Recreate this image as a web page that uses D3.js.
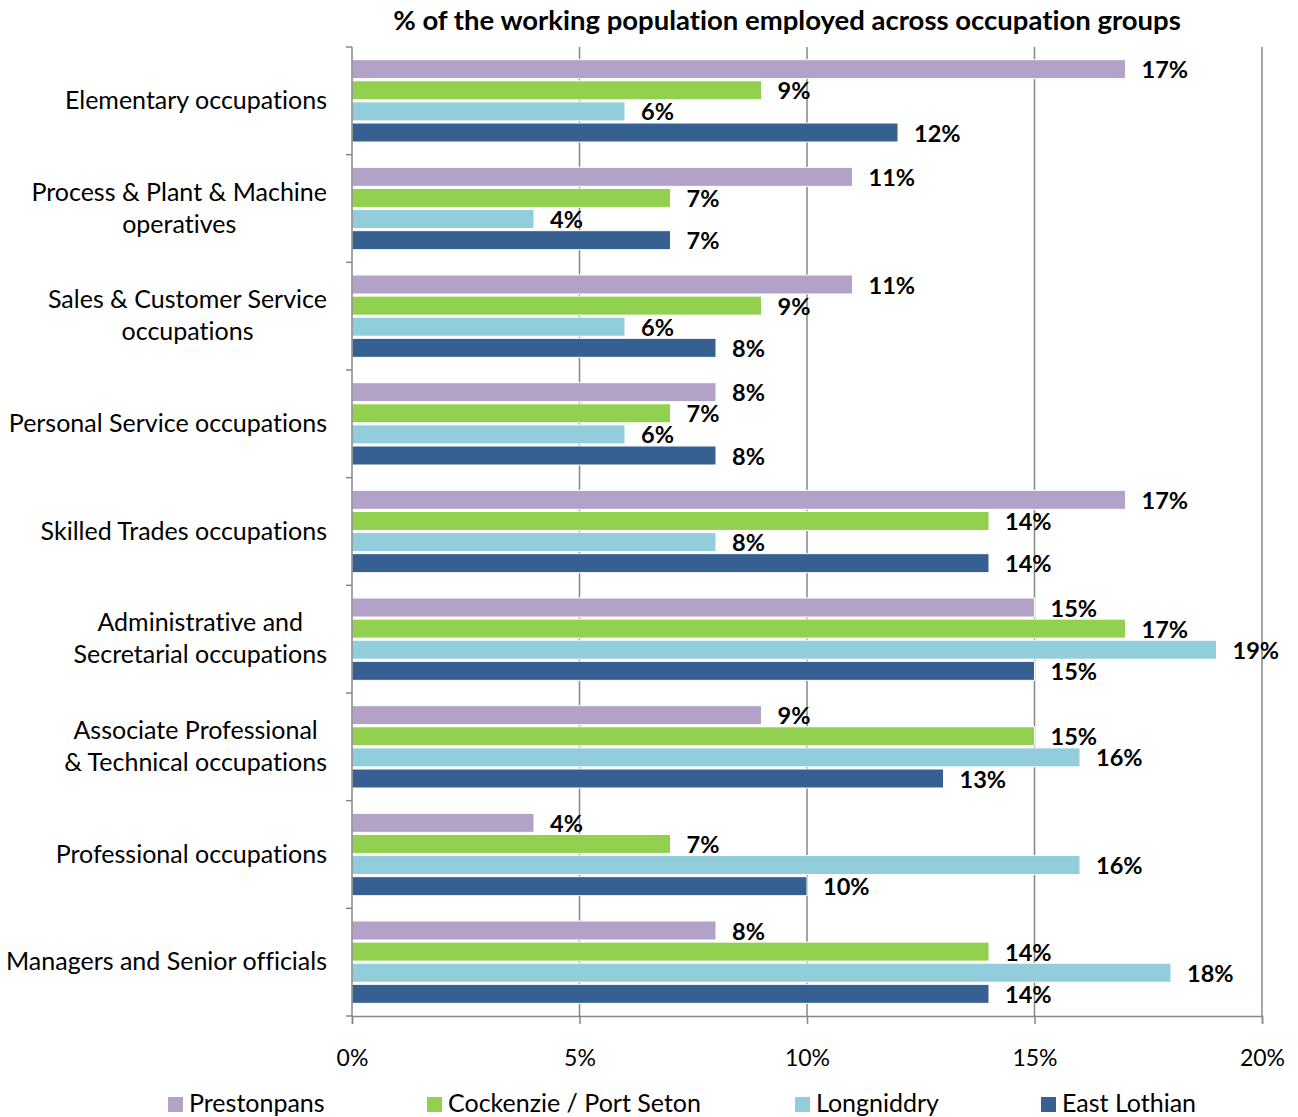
<!DOCTYPE html>
<html>
<head>
<meta charset="utf-8">
<script src="https://cdn.jsdelivr.net/npm/d3@7"></script>
<style>
  body { margin: 0; background: #fff; }
  text { font-family: Lato, "Open Sans", sans-serif; fill: #000; font-variant-ligatures: none; }
</style>
</head>
<body>
<div id="chart"></div>
<script>
const WIDTH = 1298;
const HEIGHT = 1117;
const MARGIN = { top: 47, right: 36, bottom: 101, left: 352 };

// categories, top to bottom, with their label lines
const categories = [
    "Elementary occupations",
    "Process & Plant & Machine operatives",
    "Sales & Customer Service occupations",
    "Personal Service occupations",
    "Skilled Trades occupations",
    "Administrative and Secretarial occupations",
    "Associate Professional & Technical occupations",
    "Professional occupations",
    "Managers and Senior officials"
];
const categoryLines = [
    ["Elementary occupations"],
    ["Process & Plant & Machine", "operatives"],
    ["Sales & Customer Service", "occupations"],
    ["Personal Service occupations"],
    ["Skilled Trades occupations"],
    ["Administrative and", "Secretarial occupations"],
    ["Associate Professional", "& Technical occupations"],
    ["Professional occupations"],
    ["Managers and Senior officials"]
];

const seriesNames = ["Prestonpans", "Cockenzie / Port Seton", "Longniddry", "East Lothian"];
const prestonpans = [17, 11, 11, 8, 17, 15, 9, 4, 8];
const cockenzie   = [9, 7, 9, 7, 14, 17, 15, 7, 14];
const longniddry  = [6, 4, 6, 6, 8, 19, 16, 16, 18];
const eastLothian = [12, 7, 8, 8, 14, 15, 13, 10, 14];
const xTicks = [0, 5, 10, 15, 20];

const colors = ["#b3a2c7", "#92d050", "#92cddc", "#366092"];

const seriesValues = [prestonpans, cockenzie, longniddry, eastLothian];
const rows = categories.map((c, i) => ({
    cat: c,
    values: seriesNames.map((s, j) => ({ key: s, value: seriesValues[j][i] }))
}));

const svg = d3.select("#chart").append("svg")
    .attr("width", WIDTH)
    .attr("height", HEIGHT);

const x = d3.scaleLinear().domain([0, 20]).range([0, 910]);
const y0 = d3.scaleBand().domain(categories).range([0, 969]);
const y1 = d3.scaleBand().domain(seriesNames).range([0, y0.bandwidth()]).paddingOuter(0.6).paddingInner(0.1);
const color = d3.scaleOrdinal().domain(seriesNames).range(colors);

const g = svg.append("g").attr("transform", `translate(${MARGIN.left},${MARGIN.top})`);

// gridlines
g.selectAll(".grid")
    .data(xTicks.slice(1))
    .enter().append("line")
    .attr("x1", d => x(d)).attr("x2", d => x(d))
    .attr("y1", 0).attr("y2", 969)
    .attr("stroke", "#868686").attr("stroke-width", 1.5);

// bars
const groups = g.selectAll(".grp")
    .data(rows)
    .enter().append("g")
    .attr("transform", d => `translate(0,${y0(d.cat)})`);

groups.selectAll("rect")
    .data(d => d.values)
    .enter().append("rect")
    .attr("x", 0)
    .attr("y", d => y1(d.key))
    .attr("width", d => x(d.value))
    .attr("height", y1.bandwidth())
    .attr("fill", d => color(d.key))
    .attr("stroke", "#fff")
    .attr("stroke-width", 1);

groups.selectAll(".val")
    .data(d => d.values)
    .enter().append("text")
    .attr("x", d => x(d.value) + 16)
    .attr("y", d => y1(d.key) + y1.bandwidth() / 2 + 3)
    .attr("dominant-baseline", "middle")
    .style("font-size", "23.5px")
    .style("font-weight", "bold")
    .text(d => d.value + "%");

// left axis
g.append("line")
    .attr("x1", 0).attr("x2", 0).attr("y1", 0).attr("y2", 969)
    .attr("stroke", "#868686").attr("stroke-width", 1.5);
g.selectAll(".ytick")
    .data(d3.range(categories.length + 1))
    .enter().append("line")
    .attr("x1", -6).attr("x2", 0)
    .attr("y1", i => i * y0.step()).attr("y2", i => i * y0.step())
    .attr("stroke", "#868686").attr("stroke-width", 1.5);

// bottom axis
const xAxis = g.append("g")
    .attr("transform", `translate(0,969)`)
    .call(d3.axisBottom(x).tickValues(xTicks).tickSize(8).tickPadding(26).tickFormat(d => d + "%"));
xAxis.select(".domain").attr("stroke", "#868686").attr("stroke-width", 1.5);
xAxis.selectAll(".tick line").attr("stroke", "#868686").attr("stroke-width", 1.5);
xAxis.selectAll(".tick text")
    .style("font-family", "Lato, sans-serif")
    .style("font-size", "23px")
    .attr("fill", "#000");

// category labels: centred block, right edge at 327
const labelRight = 327 - MARGIN.left;
const lineH = 32;
categoryLines.forEach((lines, i) => {
    const cy = y0(categories[i]) + y0.bandwidth() / 2 + 2;
    const t = g.append("text")
        .style("font-size", "25px")
        .attr("text-anchor", "middle");
    lines.forEach((ln, k) => {
        t.append("tspan")
            .attr("y", cy + (k - (lines.length - 1) / 2) * lineH)
            .attr("dominant-baseline", "middle")
            .text(ln);
    });
    let maxW = 0;
    t.selectAll("tspan").each(function() {
        maxW = Math.max(maxW, this.getComputedTextLength());
    });
    t.selectAll("tspan").attr("x", labelRight - maxW / 2);
});

// title
svg.append("text")
    .attr("x", 787)
    .attr("y", 23)
    .attr("text-anchor", "middle")
    .attr("dominant-baseline", "middle")
    .style("font-size", "27.5px")
    .style("font-weight", "bold")
    .text("% of the working population employed across occupation groups");

// legend
const legendX = [168, 427, 795, 1041];
const legend = svg.selectAll(".legend")
    .data(seriesNames)
    .enter().append("g")
    .attr("transform", (d, i) => `translate(${legendX[i]},1105)`);
legend.append("rect")
    .attr("x", 0).attr("y", -8)
    .attr("width", 15).attr("height", 15)
    .attr("fill", d => color(d));
legend.append("text")
    .attr("x", 21)
    .attr("y", 1)
    .attr("dominant-baseline", "middle")
    .style("font-size", "25px")
    .text(d => d);
</script>
</body>
</html>
